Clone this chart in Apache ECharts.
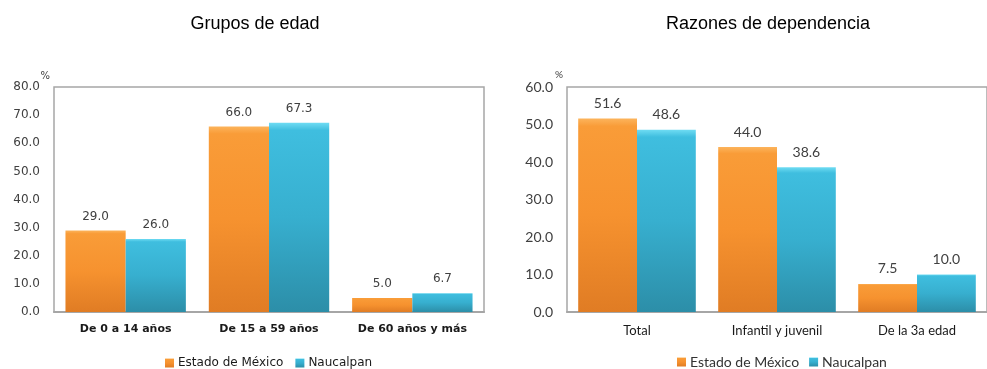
<!DOCTYPE html>
<html>
<head>
<meta charset="utf-8">
<script src="https://cdn.jsdelivr.net/npm/echarts@6/dist/echarts.min.js"></script>
<style>
  html, body { margin: 0; padding: 0; background: #fff; }
  #chart { width: 987px; height: 369px; }
</style>
</head>
<body>
<div id="chart"></div>
<script>
// ----------------------
// Datos
// ----------------------
const categoriasEdad = ['De 0 a 14 años', 'De 15 a 59 años', 'De 60 años y más'];
const estadoEdad = [29.0, 66.0, 5.0];
const naucalpanEdad = [26.0, 67.3, 6.7];

const categoriasDep = ['Total', 'Infantil y juvenil', 'De la 3a edad'];
const estadoDep = [51.6, 44.0, 7.5];
const naucalpanDep = [48.6, 38.6, 10.0];

const SERIE_EDO = 'Estado de México';
const SERIE_NAU = 'Naucalpan';

// ----------------------
// Estilos
// ----------------------
const FONT_L = 'DejaVu Sans';
const FONT_R = 'Lato';
const TXT = '#404040';
const AXIS_GREY = '#a6a6a6';

const ORANGE = new echarts.graphic.LinearGradient(0, 0, 0, 1, [
  { offset: 0, color: '#fcb45c' },
  { offset: 0.04, color: '#f99c38' },
  { offset: 0.5, color: '#f6922f' },
  { offset: 1, color: '#e07c24' }
]);
const BLUE = new echarts.graphic.LinearGradient(0, 0, 0, 1, [
  { offset: 0, color: '#6fdcf3' },
  { offset: 0.04, color: '#3fbedf' },
  { offset: 0.5, color: '#37afcf' },
  { offset: 1, color: '#2c8ea8' }
]);

function xAxisFor(idx, cats, font, size, bold) {
  return {
    type: 'category', gridIndex: idx, data: cats,
    axisLine: { lineStyle: { color: AXIS_GREY, width: 2 } },
    axisTick: { show: false },
    axisLabel: { interval: 0, color: '#1a1a1a', fontFamily: font, fontSize: size, fontWeight: bold ? 'bold' : 'normal', margin: 12 }
  };
}

function yAxisFor(idx, max, font, size) {
  return {
    type: 'value', gridIndex: idx, min: 0, max: max, interval: 10,
    name: '%', nameGap: 6,
    nameTextStyle: { color: TXT, fontFamily: font, fontSize: 10, align: 'right', padding: [0, 4, 0, 0] },
    axisLine: { show: false },
    axisTick: { show: false },
    splitLine: { show: false },
    axisLabel: { color: TXT, fontFamily: font, fontSize: size, margin: 14, formatter: v => v.toFixed(1) }
  };
}

function barSeries(name, idx, data, color, font, size, gap) {
  return {
    name: name, type: 'bar', xAxisIndex: idx, yAxisIndex: idx,
    data: data, barGap: '0%', barCategoryGap: gap,
    itemStyle: { color: color },
    label: {
      show: true, position: 'top', distance: 8, color: TXT,
      fontFamily: font, fontSize: size, formatter: p => p.value.toFixed(1)
    }
  };
}

const chart = echarts.init(document.getElementById('chart'));
chart.setOption({
  animation: false,
  title: [
    { text: 'Grupos de edad', left: 250, top: 10, textAlign: 'center',
      textStyle: { fontFamily: 'Liberation Sans', fontSize: 18, fontWeight: 'normal', color: '#000' } },
    { text: 'Razones de dependencia', left: 763, top: 10, textAlign: 'center',
      textStyle: { fontFamily: 'Liberation Sans', fontSize: 18, fontWeight: 'normal', color: '#000' } }
  ],
  legend: [
    { data: [SERIE_EDO, SERIE_NAU], left: 160, top: 352, icon: 'rect', itemWidth: 9, itemHeight: 9, itemGap: 12,
      textStyle: { fontFamily: FONT_L, fontSize: 12, color: '#1a1a1a', padding: [0, 0, 0, -1] } },
    { data: [SERIE_EDO, SERIE_NAU], left: 672, top: 350, icon: 'rect', itemWidth: 9, itemHeight: 9, itemGap: 10,
      textStyle: { fontFamily: FONT_R, fontSize: 14, color: '#333', padding: [0, 0, 0, -1] } }
  ],
  grid: [
    { left: 54, top: 87, width: 430, height: 225, show: true, borderColor: AXIS_GREY, borderWidth: 1.5, backgroundColor: '#fff' },
    { left: 567, top: 87, width: 435, height: 225, show: true, borderColor: AXIS_GREY, borderWidth: 1.5, backgroundColor: '#fff' }
  ],
  xAxis: [
    xAxisFor(0, categoriasEdad, FONT_L, 11, true),
    xAxisFor(1, categoriasDep, FONT_R, 13, false)
  ],
  yAxis: [
    yAxisFor(0, 80, FONT_L, 12),
    yAxisFor(1, 60, FONT_R, 14)
  ],
  series: [
    barSeries(SERIE_EDO, 0, estadoEdad, ORANGE, FONT_L, 12, '16%'),
    barSeries(SERIE_NAU, 0, naucalpanEdad, BLUE, FONT_L, 12, '16%'),
    barSeries(SERIE_EDO, 1, estadoDep, ORANGE, FONT_R, 14, '16%'),
    barSeries(SERIE_NAU, 1, naucalpanDep, BLUE, FONT_R, 14, '16%')
  ]
});

window.addEventListener('resize', () => chart.resize());
</script>
</body>
</html>
